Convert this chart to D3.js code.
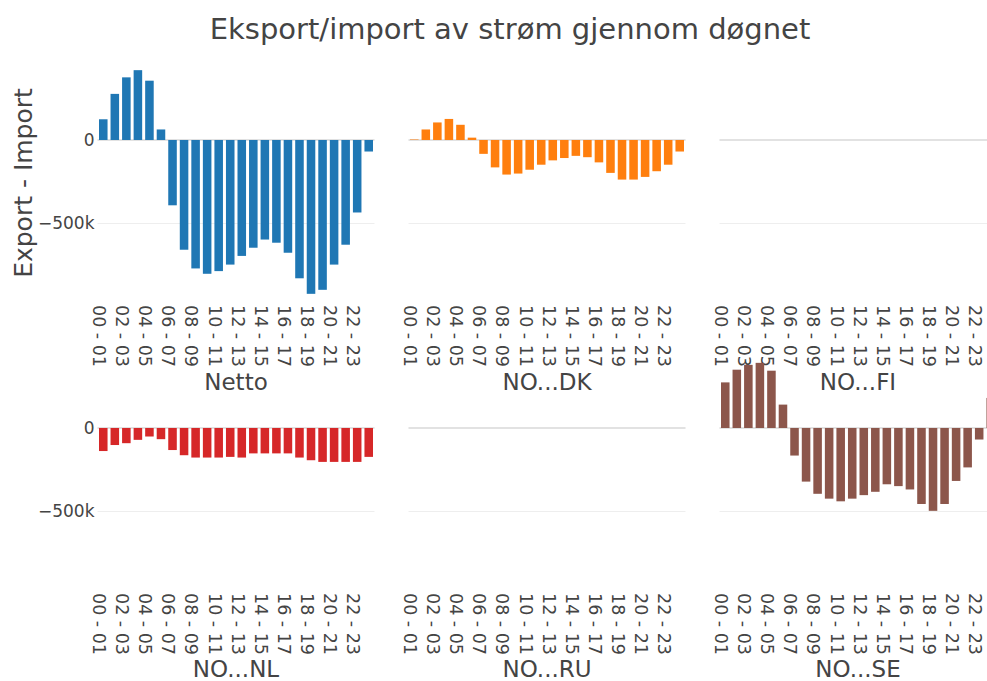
<!DOCTYPE html>
<html>
<head>
<meta charset="utf-8">
<script src="https://cdn.jsdelivr.net/npm/d3@7"></script>
<style>
    body { margin: 0; background: #fff; }
    svg text { font-family: "DejaVu Sans", Verdana, sans-serif; fill: #444; }
</style>
</head>
<body>
<div id="chart"></div>
<script>

// hours of the day, one bar each
let hours = d3.range(24).map(h => d3.format("02")(h) + " - " + d3.format("02")(h + 1));
let tickHours = hours.filter((d, i) => i % 2 === 0);

// export - import per hour (MWh)
let netto = [124000, 276000, 375000, 418000, 355000, 63000, -391000, -657000, -769000, -801000, -785000, -746000,
    -694000, -645000, -596000, -615000, -675000, -828000, -921000, -897000, -746000, -627000, -434000, -69000];
let noDK = [3000, 63000, 105000, 126000, 91000, 14000, -83000, -164000, -207000, -201000, -178000, -148000,
    -122000, -108000, -95000, -103000, -134000, -197000, -237000, -237000, -221000, -187000, -148000, -69000];
let noFI = d3.range(24).map(() => 0);
let noNL = [-138000, -102000, -91000, -71000, -51000, -67000, -132000, -163000, -177000, -177000, -177000, -173000,
    -177000, -152000, -152000, -152000, -152000, -177000, -193000, -203000, -203000, -203000, -203000, -173000];
let noRU = d3.range(24).map(() => 0);
let noSE = [273000, 349000, 378000, 390000, 343000, 140000, -165000, -321000, -394000, -423000, -439000, -423000,
    -402000, -382000, -337000, -348000, -368000, -455000, -496000, -455000, -317000, -236000, -69000, 180000];

let panelNames = ["Netto", "NO...DK", "NO...FI", "NO...NL", "NO...RU", "NO...SE"];
let panelValues = [netto, noDK, noFI, noNL, noRU, noSE];
let panelColors = ["#1f77b4", "#ff7f0e", "#2ca02c", "#d62728", "#9467bd", "#8c564b"];
let yTicks = [0, -500000];

let width = 987, height = 681;
let colLeft = [97.5, 408.5, 719.5], colWidth = 277;
let rowTop = [69, 357], rowHeight = 228;

let svg = d3.select("#chart").append("svg")
    .attr("width", width)
    .attr("height", height);

// title
svg.append("text")
    .attr("x", 510)
    .attr("y", 39)
    .attr("text-anchor", "middle")
    .style("font-size", "29px")
    .text("Eksport/import av strøm gjennom døgnet");

// y axis title, first row only
svg.append("text")
    .attr("transform", `translate(32, ${rowTop[0] + rowHeight / 2}) rotate(-90)`)
    .attr("text-anchor", "middle")
    .style("font-size", "25px")
    .text("Export - Import");

let fmt = v => v === 0 ? "0" : d3.format("~s")(v).replace("-", "\u2212");

panelNames.forEach((name, i) => {
    let col = i % 3, row = Math.floor(i / 3);

    let x = d3.scaleBand()
        .domain(hours)
        .range([colLeft[col], colLeft[col] + colWidth])
        .paddingInner(0.26)
        .paddingOuter(0.13);

    let y = d3.scaleLinear()
        .domain([-940000, 425000])
        .range([rowTop[row] + rowHeight, rowTop[row]]);

    let g = svg.append("g").attr("class", "panel");

    // grid lines
    g.selectAll(".grid")
        .data(yTicks)
        .enter()
        .append("line")
        .attr("x1", colLeft[col])
        .attr("x2", colLeft[col] + colWidth)
        .attr("y1", d => y(d))
        .attr("y2", d => y(d))
        .attr("stroke", d => d === 0 ? "#e2e2e2" : "#eeeeee")
        .attr("stroke-width", d => d === 0 ? 2 : 1);

    // bars
    g.selectAll("rect")
        .data(panelValues[i])
        .enter()
        .append("rect")
        .attr("x", (d, j) => x(hours[j]))
        .attr("width", x.bandwidth())
        .attr("y", d => y(Math.max(0, d)))
        .attr("height", d => Math.abs(y(d) - y(0)))
        .attr("fill", panelColors[i]);

    // y tick labels on the first column
    if (col === 0) {
        g.selectAll(".ytick")
            .data(yTicks)
            .enter()
            .append("text")
            .attr("x", colLeft[col] - 3)
            .attr("y", d => y(d))
            .attr("dy", "0.35em")
            .attr("text-anchor", "end")
            .style("font-size", "17px")
            .text(fmt);
    }

    // x tick labels, every second hour, turned
    let xAxisTop = rowTop[row] + rowHeight + 8;
    g.selectAll(".xtick")
        .data(tickHours)
        .enter()
        .append("text")
        .attr("transform", d => `translate(${x(d) + x.bandwidth() / 2 - 4}, ${xAxisTop}) rotate(90)`)
        .attr("dy", "0.35em")
        .attr("text-anchor", "start")
        .style("font-size", "17.5px")
        .text(d => d);

    // panel name below the ticks
    g.append("text")
        .attr("x", colLeft[col] + colWidth / 2)
        .attr("y", row === 0 ? 390 : 677)
        .attr("text-anchor", "middle")
        .style("font-size", "23px")
        .text(name);
});

</script>
</body>
</html>
